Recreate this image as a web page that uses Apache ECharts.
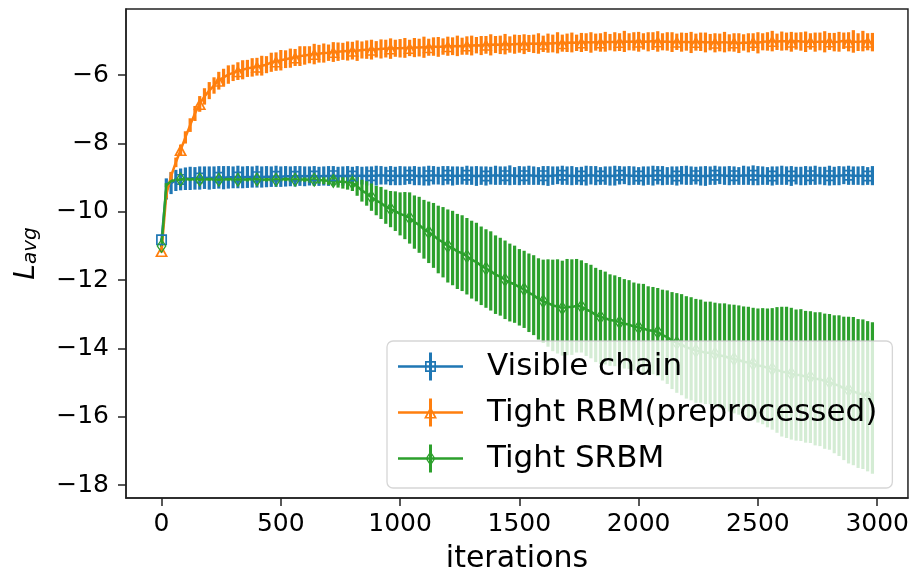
<!DOCTYPE html>
<html>
<head>
<meta charset="utf-8">
<script src="https://cdn.jsdelivr.net/npm/echarts@6/dist/echarts.min.js"></script>
<style>
  html, body { margin: 0; padding: 0; background: #fff; }
  #chart { width: 912px; height: 579px; }
</style>
</head>
<body>
<div id="chart"></div>
<script>
/* 迭代次数 (x) */
const iterations = [
  0, 20, 40, 60, 80, 100, 120, 140, 160, 180, 200, 220, 240, 260, 280, 300, 320, 340, 360, 380,
  400, 420, 440, 460, 480, 500, 520, 540, 560, 580, 600, 620, 640, 660, 680, 700, 720, 740, 760, 780,
  800, 820, 840, 860, 880, 900, 920, 940, 960, 980, 1000, 1020, 1040, 1060, 1080, 1100, 1120, 1140, 1160, 1180,
  1200, 1220, 1240, 1260, 1280, 1300, 1320, 1340, 1360, 1380, 1400, 1420, 1440, 1460, 1480, 1500, 1520, 1540, 1560, 1580,
  1600, 1620, 1640, 1660, 1680, 1700, 1720, 1740, 1760, 1780, 1800, 1820, 1840, 1860, 1880, 1900, 1920, 1940, 1960, 1980,
  2000, 2020, 2040, 2060, 2080, 2100, 2120, 2140, 2160, 2180, 2200, 2220, 2240, 2260, 2280, 2300, 2320, 2340, 2360, 2380,
  2400, 2420, 2440, 2460, 2480, 2500, 2520, 2540, 2560, 2580, 2600, 2620, 2640, 2660, 2680, 2700, 2720, 2740, 2760, 2780,
  2800, 2820, 2840, 2860, 2880, 2900, 2920, 2940, 2960, 2980
];

/* Visible chain */
const visibleMean = [
  -10.82, -9.33, -9.16, -9.08, -9.05, -9.03, -9.02, -9.02, -9.01, -9.00,
  -9.01, -9.00, -8.99, -9.00, -8.99, -8.99, -8.98, -8.99, -8.98, -8.98,
  -8.97, -8.98, -8.97, -8.97, -8.96, -8.97, -8.96, -8.96, -8.96, -8.95,
  -8.96, -8.95, -8.95, -8.96, -8.95, -8.95, -8.94, -8.95, -8.95, -8.94,
  -8.95, -8.94, -8.94, -8.95, -8.94, -8.94, -8.93, -8.94, -8.94, -8.95,
  -8.94, -8.94, -8.93, -8.94, -8.95, -8.95, -8.94, -8.93, -8.94, -8.94,
  -8.93, -8.95, -8.94, -8.94, -8.93, -8.94, -8.95, -8.94, -8.95, -8.94,
  -8.93, -8.94, -8.94, -8.93, -8.95, -8.94, -8.94, -8.93, -8.94, -8.95,
  -8.94, -8.95, -8.94, -8.93, -8.93, -8.94, -8.94, -8.95, -8.95, -8.94,
  -8.93, -8.94, -8.95, -8.94, -8.95, -8.94, -8.93, -8.93, -8.94, -8.94,
  -8.95, -8.95, -8.94, -8.94, -8.93, -8.94, -8.95, -8.94, -8.95, -8.93,
  -8.93, -8.94, -8.94, -8.95, -8.95, -8.94, -8.93, -8.93, -8.94, -8.94,
  -8.94, -8.95, -8.93, -8.94, -8.93, -8.94, -8.94, -8.95, -8.95, -8.94,
  -8.93, -8.94, -8.95, -8.94, -8.95, -8.94, -8.94, -8.93, -8.94, -8.95,
  -8.94, -8.95, -8.94, -8.93, -8.93, -8.94, -8.94, -8.94, -8.95, -8.94
];
const visibleErr = [
  0.04, 0.31, 0.32, 0.31, 0.32, 0.33, 0.34, 0.33, 0.34, 0.33,
  0.34, 0.33, 0.33, 0.34, 0.33, 0.32, 0.33, 0.32, 0.32, 0.31,
  0.32, 0.31, 0.31, 0.30, 0.31, 0.30, 0.30, 0.29, 0.30, 0.29,
  0.29, 0.28, 0.29, 0.28, 0.28, 0.29, 0.28, 0.27, 0.28, 0.28,
  0.27, 0.28, 0.26, 0.28, 0.27, 0.29, 0.27, 0.26, 0.28, 0.27,
  0.28, 0.27, 0.26, 0.28, 0.27, 0.28, 0.29, 0.27, 0.26, 0.28,
  0.27, 0.28, 0.27, 0.26, 0.28, 0.27, 0.29, 0.27, 0.28, 0.26,
  0.28, 0.27, 0.27, 0.29, 0.26, 0.28, 0.27, 0.28, 0.27, 0.26,
  0.28, 0.29, 0.27, 0.26, 0.28, 0.27, 0.28, 0.26, 0.27, 0.29,
  0.27, 0.28, 0.26, 0.27, 0.28, 0.29, 0.27, 0.26, 0.28, 0.27,
  0.26, 0.28, 0.27, 0.29, 0.27, 0.28, 0.26, 0.27, 0.28, 0.27,
  0.28, 0.27, 0.26, 0.28, 0.29, 0.27, 0.28, 0.26, 0.27, 0.28,
  0.27, 0.26, 0.28, 0.27, 0.29, 0.28, 0.27, 0.26, 0.28, 0.27,
  0.28, 0.27, 0.29, 0.26, 0.27, 0.28, 0.27, 0.28, 0.26, 0.27,
  0.29, 0.27, 0.28, 0.26, 0.28, 0.27, 0.27, 0.28, 0.26, 0.28
];

/* Tight RBM(preprocessed) */
const rbmMean = [
  -11.15, -9.50, -8.95, -8.55, -8.19, -7.82, -7.46, -7.12, -6.84, -6.62,
  -6.45, -6.30, -6.16, -6.06, -5.98, -5.93, -5.88, -5.84, -5.80, -5.77,
  -5.75, -5.72, -5.69, -5.62, -5.60, -5.56, -5.53, -5.50, -5.48, -5.44,
  -5.42, -5.40, -5.38, -5.37, -5.35, -5.34, -5.32, -5.31, -5.30, -5.29,
  -5.28, -5.28, -5.26, -5.25, -5.25, -5.24, -5.23, -5.22, -5.22, -5.21,
  -5.21, -5.20, -5.20, -5.19, -5.19, -5.18, -5.18, -5.16, -5.17, -5.16,
  -5.15, -5.15, -5.14, -5.15, -5.13, -5.13, -5.12, -5.13, -5.11, -5.11,
  -5.10, -5.11, -5.09, -5.10, -5.09, -5.08, -5.09, -5.07, -5.08, -5.07,
  -5.08, -5.06, -5.07, -5.05, -5.06, -5.05, -5.04, -5.05, -5.04, -5.03,
  -5.04, -5.03, -5.04, -5.02, -5.03, -5.02, -5.03, -5.01, -5.02, -5.01,
  -5.02, -5.01, -5.02, -5.00, -5.01, -5.02, -5.01, -5.03, -5.02, -5.03,
  -5.02, -5.04, -5.03, -5.02, -5.04, -5.03, -5.05, -5.04, -5.03, -5.05,
  -5.04, -5.06, -5.04, -5.05, -5.03, -5.05, -5.02, -5.01, -5.00, -5.02,
  -5.00, -5.01, -5.02, -5.00, -5.01, -5.02, -5.01, -5.03, -5.01, -5.02,
  -5.01, -5.03, -5.02, -4.99, -5.02, -5.01, -5.03, -5.00, -5.02, -5.03
];
const rbmErr = [
  0.04, 0.10, 0.12, 0.14, 0.16, 0.18, 0.20, 0.22, 0.23, 0.24,
  0.25, 0.24, 0.26, 0.25, 0.27, 0.24, 0.26, 0.28, 0.25, 0.27,
  0.26, 0.29, 0.25, 0.28, 0.27, 0.30, 0.26, 0.28, 0.25, 0.29,
  0.27, 0.25, 0.30, 0.26, 0.28, 0.24, 0.29, 0.27, 0.25, 0.28,
  0.26, 0.30, 0.25, 0.27, 0.29, 0.24, 0.28, 0.26, 0.30, 0.25,
  0.27, 0.29, 0.24, 0.28, 0.26, 0.31, 0.25, 0.27, 0.29, 0.24,
  0.28, 0.26, 0.30, 0.25, 0.27, 0.29, 0.24, 0.28, 0.26, 0.31,
  0.25, 0.27, 0.30, 0.24, 0.28, 0.26, 0.29, 0.25, 0.27, 0.30,
  0.24, 0.28, 0.26, 0.31, 0.25, 0.27, 0.29, 0.24, 0.28, 0.26,
  0.30, 0.25, 0.27, 0.29, 0.24, 0.28, 0.26, 0.31, 0.25, 0.27,
  0.29, 0.24, 0.28, 0.26, 0.30, 0.25, 0.27, 0.29, 0.24, 0.28,
  0.26, 0.31, 0.25, 0.27, 0.29, 0.24, 0.28, 0.26, 0.30, 0.25,
  0.27, 0.29, 0.24, 0.28, 0.26, 0.31, 0.25, 0.27, 0.30, 0.24,
  0.28, 0.26, 0.29, 0.25, 0.27, 0.30, 0.24, 0.28, 0.26, 0.31,
  0.25, 0.27, 0.29, 0.24, 0.28, 0.33, 0.26, 0.30, 0.25, 0.27
];

/* Tight SRBM */
const srbmMean = [
  -11.00, -9.22, -9.10, -9.07, -9.05, -9.04, -9.05, -9.04, -9.05, -9.05,
  -9.04, -9.05, -9.06, -9.05, -9.04, -9.05, -9.06, -9.05, -9.05, -9.04,
  -9.05, -9.06, -9.05, -9.05, -9.06, -9.05, -9.04, -9.05, -9.06, -9.05,
  -9.05, -9.06, -9.06, -9.07, -9.08, -9.09, -9.10, -9.12, -9.12, -9.13,
  -9.15, -9.25, -9.38, -9.46, -9.57, -9.67, -9.74, -9.85, -9.92, -9.98,
  -10.06, -10.11, -10.18, -10.30, -10.38, -10.51, -10.60, -10.69, -10.81, -10.89,
  -11.00, -11.06, -11.16, -11.21, -11.30, -11.40, -11.47, -11.58, -11.66, -11.73,
  -11.84, -11.90, -11.99, -12.07, -12.12, -12.21, -12.27, -12.37, -12.44, -12.55,
  -12.62, -12.67, -12.74, -12.77, -12.82, -12.79, -12.79, -12.75, -12.77, -12.86,
  -12.92, -13.02, -13.08, -13.11, -13.17, -13.19, -13.23, -13.28, -13.30, -13.36,
  -13.39, -13.41, -13.47, -13.48, -13.52, -13.61, -13.67, -13.77, -13.84, -13.89,
  -13.97, -14.01, -14.07, -14.08, -14.13, -14.13, -14.16, -14.21, -14.23, -14.28,
  -14.31, -14.34, -14.39, -14.41, -14.45, -14.50, -14.52, -14.57, -14.60, -14.63,
  -14.68, -14.70, -14.74, -14.78, -14.78, -14.83, -14.84, -14.89, -14.90, -14.96,
  -14.98, -15.05, -15.09, -15.17, -15.22, -15.25, -15.32, -15.34, -15.40, -15.45
];
const srbmErr = [
  0.03, 0.06, 0.05, 0.05, 0.04, 0.05, 0.04, 0.05, 0.05, 0.04,
  0.05, 0.05, 0.04, 0.05, 0.05, 0.06, 0.05, 0.05, 0.06, 0.05,
  0.06, 0.05, 0.06, 0.06, 0.05, 0.06, 0.06, 0.07, 0.06, 0.07,
  0.07, 0.08, 0.09, 0.10, 0.11, 0.12, 0.14, 0.17, 0.20, 0.22,
  0.24, 0.28, 0.32, 0.36, 0.40, 0.43, 0.47, 0.50, 0.53, 0.58,
  0.63, 0.69, 0.75, 0.78, 0.82, 0.86, 0.90, 0.95, 0.99, 1.03,
  1.07, 1.09, 1.10, 1.11, 1.12, 1.14, 1.15, 1.15, 1.15, 1.16,
  1.15, 1.14, 1.15, 1.14, 1.13, 1.12, 1.13, 1.15, 1.17, 1.19,
  1.22, 1.28, 1.34, 1.38, 1.39, 1.41, 1.40, 1.37, 1.35, 1.36,
  1.37, 1.38, 1.38, 1.36, 1.34, 1.33, 1.32, 1.31, 1.30, 1.29,
  1.29, 1.30, 1.29, 1.28, 1.29, 1.33, 1.37, 1.42, 1.46, 1.48,
  1.50, 1.51, 1.52, 1.51, 1.50, 1.50, 1.50, 1.53, 1.55, 1.57,
  1.59, 1.60, 1.62, 1.63, 1.64, 1.67, 1.70, 1.74, 1.78, 1.84,
  1.90, 1.92, 1.93, 1.92, 1.93, 1.93, 1.93, 1.95, 1.96, 1.98,
  1.99, 2.02, 2.06, 2.10, 2.15, 2.17, 2.18, 2.19, 2.20, 2.22
];

const seriesNames = ['Visible chain', 'Tight RBM(preprocessed)', 'Tight SRBM'];
const xTicks = [0, 500, 1000, 1500, 2000, 2500, 3000];
const yTicks = [-18, -16, -14, -12, -10, -8, -6];

const COLORS = ['#1f77b4', '#ff7f0e', '#2ca02c'];
const FONT = 'DejaVu Sans';
const AXIS_COLOR = '#222';

// 空心标记 (外框顺时针, 内框逆时针 -> 镂空)
const MARKERS = [
  { path: 'path://M0 0L11 0L11 11L0 11Z M1.7 1.7L1.7 9.3L9.3 9.3L9.3 1.7Z', size: [11, 11] },
  { path: 'path://M6.5 0L13 12L0 12Z M6.5 3.6L2.8 10.5L10.2 10.5Z', size: [13, 12] },
  { path: 'path://M5 0L10 7.5L5 15L0 7.5Z M5 2.3L1.6 7.5L5 12.7L8.4 7.5Z', size: [10, 15] }
];

// 图例图标: 横线 + 竖误差线 + 空心标记
const LINE_BAR = 'M0 12.8L65 12.8L65 15.2L0 15.2Z M31 0L34 0L34 28L31 28Z ';
const LEGEND_ICONS = [
  'path://' + LINE_BAR + 'M27 8.5L38 8.5L38 19.5L27 19.5Z M28.7 10.2L28.7 17.8L36.3 17.8L36.3 10.2Z',
  'path://' + LINE_BAR + 'M32.5 8L39 20L26 20Z M32.5 11.6L28.8 18.5L36.2 18.5Z',
  'path://' + LINE_BAR + 'M32.5 6.5L37.5 14L32.5 21.5L27.5 14Z M32.5 8.8L29.1 14L32.5 19.2L35.9 14Z'
];

const means = [visibleMean, rbmMean, srbmMean];
const errs = [visibleErr, rbmErr, srbmErr];

function renderErrorBar(params, api) {
  const x = api.value(0);
  const m = api.value(1);
  const e = api.value(2);
  const hi = api.coord([x, m + e]);
  const lo = api.coord([x, m - e]);
  const w = 3.2;
  return {
    type: 'rect',
    shape: { x: hi[0] - w / 2, y: hi[1], width: w, height: lo[1] - hi[1] },
    style: { fill: api.visual('color') }
  };
}

function minusFmt(v) {
  return v < 0 ? '\u2212' + Math.abs(v) : String(v);
}

const series = [];
// 误差线 (先画, 在下层)
seriesNames.forEach((name, k) => {
  series.push({
    name: name,
    type: 'custom',
    z: 2,
    clip: true,
    silent: true,
    itemStyle: { color: COLORS[k] },
    renderItem: renderErrorBar,
    data: iterations.map((x, i) => [x, means[k][i], errs[k][i]])
  });
});
// 均值折线 + 每 4 点一个标记
seriesNames.forEach((name, k) => {
  series.push({
    name: name,
    type: 'line',
    z: 3,
    silent: true,
    showAllSymbol: true,
    symbol: (v, p) => (p.dataIndex % 4 === 0 ? MARKERS[k].path : 'none'),
    symbolSize: MARKERS[k].size,
    itemStyle: { color: COLORS[k] },
    lineStyle: { color: COLORS[k], width: 2.5 },
    emphasis: { disabled: true },
    data: iterations.map((x, i) => [x, means[k][i]])
  });
});

const chart = echarts.init(document.getElementById('chart'));
chart.setOption({
  animation: false,
  backgroundColor: '#fff',
  grid: {
    left: 126, right: 4, top: 9, bottom: 75,
    show: true, borderColor: AXIS_COLOR, borderWidth: 1.5, backgroundColor: 'transparent'
  },
  xAxis: {
    type: 'value',
    min: -149,
    max: 3129,
    name: 'iterations',
    nameLocation: 'middle',
    nameGap: 46,
    nameTextStyle: { fontSize: 30, color: '#000', fontFamily: FONT },
    axisLine: { show: true, onZero: false, lineStyle: { color: AXIS_COLOR, width: 1.5 } },
    splitLine: { show: false },
    axisTick: { show: true, length: 8, customValues: xTicks, lineStyle: { color: AXIS_COLOR, width: 1.5 } },
    axisLabel: { customValues: xTicks, fontSize: 25, color: '#000', fontFamily: FONT, margin: 14, formatter: v => String(v) }
  },
  yAxis: {
    type: 'value',
    min: -18.38,
    max: -4.06,
    name: '{a|L}{b|avg}',
    nameLocation: 'middle',
    nameGap: 85,
    nameTextStyle: {
      color: '#000',
      rich: {
        a: { fontSize: 28, lineHeight: 28, fontStyle: 'italic', fontFamily: FONT, color: '#000', verticalAlign: 'top', padding: [0, 0, 4, 0] },
        b: { fontSize: 20, lineHeight: 20, fontStyle: 'italic', fontFamily: FONT, color: '#000', verticalAlign: 'bottom' }
      }
    },
    axisLine: { show: true, onZero: false, lineStyle: { color: AXIS_COLOR, width: 1.5 } },
    splitLine: { show: false },
    axisTick: { show: true, length: 8, customValues: yTicks, lineStyle: { color: AXIS_COLOR, width: 1.5 } },
    axisLabel: { customValues: yTicks, fontSize: 25, color: '#000', fontFamily: FONT, margin: 17, formatter: minusFmt }
  },
  legend: {
    orient: 'vertical',
    left: 387,
    top: 341,
    padding: [10, 15, 14, 11],
    itemWidth: 65,
    itemHeight: 28,
    itemGap: 15,
    selectedMode: false,
    backgroundColor: 'rgba(255,255,255,0.8)',
    borderColor: 'rgba(204,204,204,0.8)',
    borderWidth: 1.3,
    borderRadius: 6,
    itemStyle: { borderWidth: 0 },
    textStyle: { fontSize: 31, color: '#000', fontFamily: FONT, padding: [0, 0, 0, 19] },
    data: seriesNames.map((name, k) => ({ name: name, icon: LEGEND_ICONS[k], itemStyle: { color: COLORS[k] } }))
  },
  series: series
});
</script>
</body>
</html>
